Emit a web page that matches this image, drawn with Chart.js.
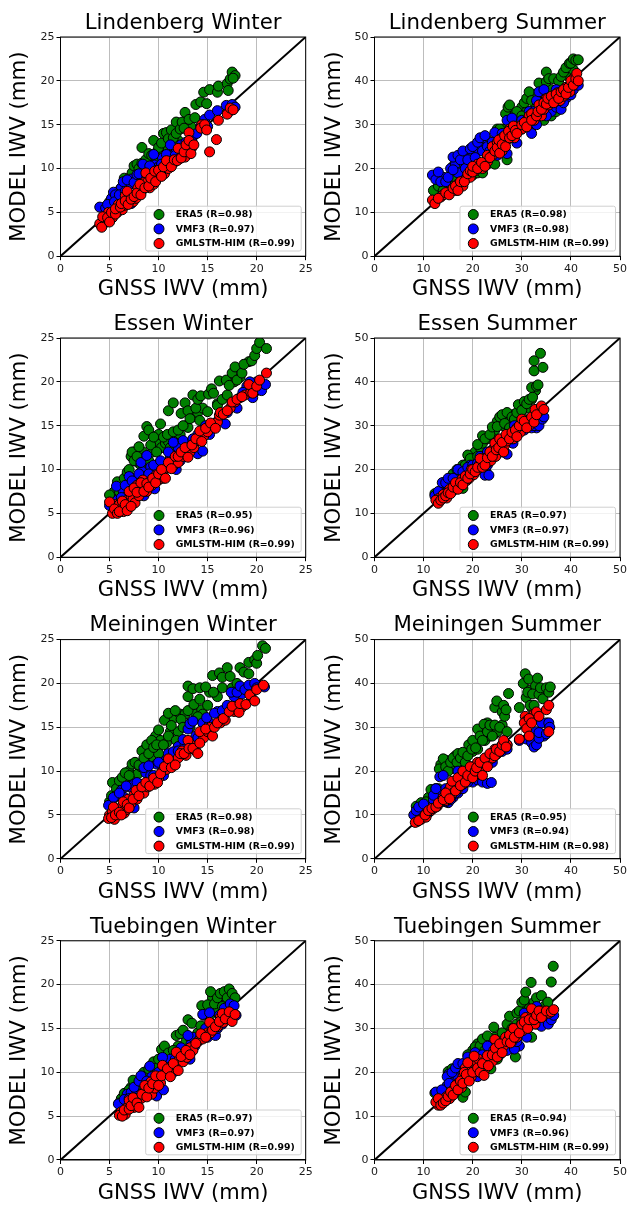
<!DOCTYPE html>
<html><head><meta charset="utf-8">
<script src="https://cdn.jsdelivr.net/npm/chart.js@4"></script>
<style>html,body{margin:0;padding:0;background:#fff}canvas{position:absolute;filter:blur(0.35px)}</style>
</head><body>
<script>
const seriesNames=["ERA5","VMF3","GMLSTM-HIM"];
const panelTitles=["Lindenberg Winter","Lindenberg Summer","Essen Winter","Essen Summer","Meiningen Winter","Meiningen Summer","Tuebingen Winter","Tuebingen Summer"];
const panelR=[[0.98,0.97,0.99],[0.98,0.98,0.99],[0.95,0.96,0.99],[0.97,0.97,0.99],[0.98,0.98,0.99],[0.95,0.94,0.98],[0.97,0.97,0.99],[0.94,0.96,0.99]];
const axisMax=[25,50,25,50,25,50,25,50];
const xLabel="GNSS IWV (mm)", yLabel="MODEL IWV (mm)";

const lindenbergWinterEra5=[[5.2,5.8],[5.8,7],[6.2,7.8],[6.8,8],[7.1,8.2],[7.6,9.2],[8,9],[8.4,9.6],[8.9,10],[9.1,10.8],[9.5,10.5],[9.9,12],[10.2,11.5],[10.7,12.5],[11,12.3],[11.4,13],[12,13.2],[12.9,14.5],[13.3,14.8],[4.5,5.6],[5,6.2],[5.5,6.5],[6,7.5],[6.5,8.9],[6.5,8.3],[7,8.9],[7.3,9.5],[7.5,10.3],[7.8,10.5],[8,10],[8.3,10.6],[8.3,12.4],[8.7,11],[9,11.7],[9.3,11.5],[9.5,13.2],[9.7,11.3],[10,12.4],[10.3,12.9],[10.5,14],[10.8,14.1],[11,13.4],[11.3,14.4],[11.5,13.5],[11.8,14],[11.8,15.3],[12.2,14.5],[12.4,15.3],[12.7,16.4],[12.6,14.6],[13.1,15.6],[13.7,15.8],[13.8,17.3],[14.3,17.6],[14.6,18.7],[14.9,17.4],[15.2,19],[16,18.7],[16.1,19.4],[17,19.7],[17.1,18.9],[17.3,20.2],[17.5,21],[17.8,20.6],[17.6,20.3]];
const lindenbergWinterVmf3=[[5,6],[5.2,6.6],[5.9,7.4],[6.2,7.8],[6.9,8],[7.2,8.8],[7.6,7],[8,8],[8.5,8.5],[8.7,9.8],[9.2,9],[9.6,10.4],[10,10.2],[10.4,11.2],[10.8,10.4],[11.2,11.5],[11.8,12.2],[12.2,11.8],[13,12.5],[13.4,13.2],[4,5.6],[4.6,5.5],[4.8,5.9],[5.4,7.3],[5.6,7],[5.5,6.2],[6,7],[6.4,8.5],[6.8,8.7],[6.6,7.4],[7,6.2],[7.2,6],[7.5,8.4],[7.8,9.3],[8,9.4],[8.2,7.3],[8.4,10.5],[8.8,9],[9.1,10.3],[9.5,11.6],[9.8,9.8],[10.3,10.5],[10.8,11.6],[11.2,12.7],[11.7,11.5],[12.3,12.7],[12.8,13],[13.5,13.7],[13.9,14],[14.3,14.8],[14.7,15.6],[15.2,16.1],[16,16.6],[15,14.8],[16.9,17.2],[17.5,17.3],[17.8,17],[17.3,16.6]];
const lindenbergWinterGmlstm=[[4.5,3.8],[4.6,4.2],[4.9,5],[5.3,4.4],[5.8,5],[5.9,5.9],[6.3,5.3],[6.5,5.8],[6.6,6.9],[7,6.2],[7.1,7],[7.4,6.2],[7.7,6.6],[7.9,7.8],[8.3,7.5],[8.5,8.4],[8.9,8.5],[9.1,7.8],[9.4,9.3],[9.5,8.2],[9.9,9],[10.2,9.8],[10.6,9.4],[11,10],[11.2,10.8],[11.5,10.6],[12.1,11.1],[12.4,12],[12.7,11.3],[13,12],[13.4,12.4],[14.4,15],[4,3.7],[4.2,3.3],[4.3,4.5],[4.8,4.4],[5,3.9],[5.2,5],[5.6,4.8],[5.6,5.4],[6.1,5.6],[6.2,6],[6.6,6.3],[6.8,7.4],[6.9,5.9],[7.2,6.5],[7.5,6.8],[7.8,7.2],[8.1,8.2],[8.2,7],[8.6,7.8],[8.7,9.5],[9,8],[9.2,8.9],[9.6,9.7],[9.7,8.5],[10,9.8],[10.3,9.1],[10.5,10.2],[10.8,10.9],[11.3,10.2],[11.6,11],[11.9,10.9],[12,12.3],[12.3,11.2],[12.6,11.9],[12.8,12.7],[13.1,14.1],[13.1,13.2],[13.3,11.7],[13.6,12.7],[14.3,14.6],[14.7,15],[14.9,14.4],[15.2,11.9],[15.9,13.3],[16.1,15.5],[17,16.2],[17.3,16.9],[17.6,16.7]];

const lindenbergSummerEra5=[[15,17],[16.5,18],[18,18],[20,21],[22,21],[23,23],[24,25],[26,26],[26,29],[28,32],[29,31],[30,34],[31,33],[32,33],[33,37],[34,35],[34.5,37.5],[35,34],[36,38],[37,35],[38,36],[39.5,41],[40.5,42.5],[12,15],[13,16],[14,15],[15.5,16],[16,20.5],[17,21],[18,20],[19,18.5],[20,18.5],[21,19],[22,19],[23,21],[24.5,21],[25,29],[25.5,29],[27,22],[26.7,32.5],[27.2,34],[27.5,34.5],[28,30],[29,33],[30,32],[30.5,35],[31,36],[31.5,37.5],[32,35.5],[33,34],[33.5,39.5],[34.5,31],[35,42],[35,39.8],[35.5,40.5],[36,32],[36.5,40.5],[37.5,40],[38,41],[38.5,42],[39,43],[39.7,44],[40,44],[40.5,45],[41,44.7],[41.5,44.8],[37,33]];
const lindenbergSummerVmf3=[[14,18],[15.5,20],[16.5,21],[17,19],[18,21.5],[19,23],[20,23],[21,24],[22,26],[23,26.5],[24,24],[25,27],[26,26],[28,29],[30,29],[31.5,33],[32.5,33],[33,35.5],[35,36],[36,33],[37,34],[39,36],[40,38.5],[11.8,18.5],[12.5,17.5],[13,19.2],[13.5,17],[14.5,17],[15,18],[16,22.6],[16,19.7],[17,23],[17.5,22],[18,24],[18.5,20],[19,22],[19.5,24.5],[20,25],[20.5,22.5],[21,26],[21.5,27],[22,24],[22.5,27.5],[23,25],[23.5,24],[24,26],[24.5,28.2],[25,23],[26,28],[27,23.4],[27,31],[28,31.5],[29,25.8],[29.5,29],[30,31],[31,30],[32,28],[33,30],[33.5,37.5],[34,34],[34.5,38],[35,32],[36,35],[37,38],[38,33.5],[38.5,35],[39,38.5],[40,36.8],[40.5,38],[41.5,39]];
const lindenbergSummerGmlstm=[[13.5,13.5],[14,14],[15,14.5],[15.7,15],[16.5,15],[17,16.5],[18,16],[18.5,17.5],[19.5,18],[20.5,19.5],[21,21],[22,20],[23,21.5],[23,23],[24,23],[24,25],[25,26],[26,24],[26,27],[27,26.5],[27.5,29],[28.5,27],[29.5,29],[30,29],[31,31],[31.5,32],[32.5,31],[33.5,34.5],[34,32],[34.5,33.5],[35,36],[35.5,34.5],[36,35],[36.8,36],[37.3,37.3],[37.8,35.5],[38.5,36.5],[39,38.5],[39.8,37.5],[40.5,40.5],[11.8,12.8],[12.3,12],[13,13.2],[14.5,14.5],[15.2,14],[16,15.5],[16.5,16],[17,15],[17.5,17],[18.3,17],[19,18.8],[19.5,19.5],[20,19.2],[20,20.5],[21,20],[21.8,21.4],[22.5,20.5],[23.5,22.5],[24.5,24],[25,24.8],[25.3,26.5],[25.5,23.5],[26,25.5],[26.5,27.5],[26.7,25],[27.3,28.5],[27.5,27],[28,27.5],[28.3,29.7],[28.7,28.7],[29,28],[30,30],[30.5,30.5],[31,29.5],[32,32.5],[32,31],[33,32],[33.3,33],[34,33.5],[34.5,35],[35,34.7],[35.3,36],[36,36.5],[36.5,35],[37,37],[37.5,36],[38,37.5],[38.5,38],[39,37],[39.5,38.5],[40,40],[40.5,39],[41,40.5],[41.2,41.7],[41.5,40]];

const essenWinterEra5=[[5.5,7.5],[6.2,8.2],[6.6,8.3],[7,9],[7.5,12],[7.9,10.8],[8.4,12],[8.7,11.5],[9,11],[9.4,12],[10,13],[10,14],[10.3,12.5],[10.7,13],[11,13.2],[11.2,12.5],[11.8,13.5],[12.2,14],[12.8,15],[13,14.8],[13.5,16],[14,16.5],[14.5,17],[16,17.5],[17.7,20],[18.3,20.5],[19.2,22.3],[5,7.1],[5.8,8.6],[6,7.5],[6.5,9],[6.8,9.7],[7,10],[7.2,11.5],[7.3,12],[7.5,11],[7.8,11.5],[8,12.6],[8.2,10.5],[8.5,13.8],[8.8,14.9],[9,14.5],[9.2,12.8],[9.5,13.7],[9.8,12],[10.2,15.2],[10.5,13.7],[10.9,14],[11,16.7],[11.5,17.6],[11.5,14.3],[12,14.5],[12.3,16.4],[12.5,15],[12.7,17.6],[13,16.7],[13.2,15.8],[13.5,18.5],[13.8,17],[14,18],[14.3,18.4],[14.2,15.6],[15,16.6],[15.1,18.6],[15.4,19.2],[15.6,18.7],[16,17.3],[16.2,20.1],[16.5,18],[16.9,20.2],[17,18.5],[17.2,19.6],[17.5,21],[17.8,21.7],[18,20.2],[18.5,21],[18.7,22],[19.5,22.4],[19.8,23],[20,23.8],[20.3,24.5],[21,23.8]];
const essenWinterVmf3=[[5.8,6.5],[6.4,7.5],[6.8,7],[7,8],[7.6,9],[8,8.2],[8.3,9.8],[8.5,7],[9,8],[9.2,10.3],[9.8,10.5],[10,9],[10.8,10.2],[11.2,11.5],[12,12.5],[12.2,11],[13,13],[14,14],[16.3,15.7],[17,16.5],[18.3,18.2],[19,19.5],[20,20],[5,5.9],[5.7,8.1],[6.2,6.8],[6.6,8.2],[7,9.2],[7.3,8.7],[7.5,7],[8,9.5],[8.2,10.8],[8.8,11.6],[9,9.5],[9.6,7.8],[9.5,10.5],[10.2,11],[10.5,9],[11,12],[11.5,13.1],[11.8,10],[12.5,13.3],[13,12],[13.5,13.5],[14,11.8],[14.5,12.1],[14.8,15],[15.2,14],[16,15.5],[16.8,15.2],[17.5,17.5],[18,17],[18.6,18.8],[19.3,20],[19.6,18.2],[20,19],[20.5,19],[20.9,19.7]];
const essenWinterGmlstm=[[5.3,5],[5.6,6],[6,6],[6.2,5.5],[6.4,5.2],[6.6,5.5],[6.8,6.5],[7,6.2],[7.2,7],[7.4,6.6],[7.6,6.2],[7.8,8.2],[8,7],[8.2,7.7],[8.4,8.8],[8.8,7.5],[9.1,8.6],[9.3,8.2],[9.7,9.3],[10,8.8],[10.2,9],[10.5,9.8],[10.8,10.2],[11.5,10.4],[12,10.8],[12.5,11.5],[13.2,12],[13.6,12.5],[14,13.3],[14.6,13.8],[15,14.3],[16,15.4],[16.2,16.2],[17.3,17],[17.8,17.7],[18.8,18.5],[19.4,18.8],[5,6.3],[5.5,5.5],[5.8,5],[6,5.2],[6.3,6.4],[6.6,6],[6.8,5.3],[7,7.5],[7.2,5.8],[7.5,7.9],[7.8,7.4],[8.2,8.5],[8.5,7.5],[8.8,8.4],[9,8],[9.4,9],[9.7,8.5],[10,9.5],[10.3,10],[10.7,9],[11,10.8],[11.3,10.1],[11.7,11.5],[12,11.5],[12.3,12],[12.7,12.5],[13,11.4],[13.4,12.8],[13.8,13.5],[14.2,14.4],[14.4,13.2],[14.8,14.7],[15.3,15.3],[15.8,14.7],[16.3,16.5],[16.6,16.3],[17,16.7],[17.5,17.7],[18,18],[18.5,18.3],[19.2,19.7],[19.6,18.7],[20,19.5],[20.3,20.2],[21,21]];

const essenSummerEra5=[[14.5,17],[15.5,18],[16.5,19],[17.5,19],[18,21],[19,21.5],[20,23],[20.5,24],[21.5,25],[22,26],[23,27],[24,28],[24.5,29],[25,31],[26.2,30],[27,31],[28.2,32.5],[30,32],[31,34],[32,36],[32.8,38],[12.3,14.5],[13,14],[14,17],[15,16],[16,19],[16.8,20],[17.5,20],[18,15.7],[18.5,21],[19,23.3],[19.5,22.5],[20,19],[21,23],[21,25.7],[22,27.7],[22.5,27],[23.5,28],[24,29.7],[25,29.8],[25.5,32],[26,32.5],[26.5,30.5],[27,33],[27.5,29.5],[28,32],[28.5,31.5],[29,33],[29.3,34.8],[30,33.5],[30.5,35.5],[31,35],[31.5,36],[32,38.7],[32.2,36.5],[32.5,42.5],[32.5,44.8],[33,39],[33.3,39.3],[33.8,46.5],[34.3,43.3]];
const essenSummerVmf3=[[13,14],[14,15.5],[15,16],[16,17],[17,18.5],[18,18],[19,19],[19.5,21],[20.5,20],[21,21],[21.5,23],[22,22],[22.7,19.5],[23,21],[24.5,23],[25,26],[26,24],[26.7,27],[28.2,26],[29,28],[30.5,29],[31.5,31],[33,29.5],[12.3,14],[13,15],[13.8,17],[14.5,17],[15,18],[16,18],[17,20],[18,19.5],[19,20.5],[20,21],[21,21.5],[21.5,21],[22.5,18.7],[23.3,18.7],[23,24],[24,24.5],[25,25],[26,25.5],[27,23.5],[27.5,28],[28,27],[28.5,30],[29.5,29],[30,31],[31,30],[32,29.5],[32.5,30],[33,31],[33.5,30],[34.2,31.5],[34.5,32]];
const essenSummerGmlstm=[[13.2,13.5],[14,14.3],[14.7,13.5],[15.3,15.5],[15.8,15],[16.3,15.5],[16.7,16],[17.3,16],[17.8,17.8],[18.2,17.2],[18.8,17.5],[19.3,18],[19.7,20],[20.2,18.8],[20.8,19.8],[21.3,21],[21.8,21],[22.3,22.5],[23,21.5],[23.7,22],[24.2,24.5],[24.7,23],[25,26.5],[25.7,24.5],[26.5,25.5],[27,26.5],[27.8,27.5],[28.3,27],[29,29.5],[29.7,28.5],[30.2,30],[31,31],[31.5,30],[32.2,31.5],[33.3,33],[12.5,13],[13,12.3],[13.5,13],[14,13.5],[14.5,14],[15,14.7],[15.5,14.5],[16,16],[16.5,17],[17,15.5],[17.5,17],[18,16.5],[18.5,18.5],[19,18],[19.5,19],[20,20],[20.5,19.5],[21,20.5],[21.5,22.5],[22,20.5],[22.5,21],[23,22.7],[23.5,24],[24,23],[24.5,26],[24.8,24.5],[25.3,25],[25.5,27],[26,26.2],[26.3,24],[26.8,28],[27.5,27],[28,28.5],[28.7,29],[29,27.5],[29.5,30],[30,31.5],[30.5,31],[31,29.5],[32,32],[32.5,30.8],[32.7,33.7],[33,32.5],[34,34.5],[34.5,33.7]];

const meiningenWinterEra5=[[5.5,7],[6,7.5],[6.2,8.2],[6.8,8.5],[7,10],[7.5,9.5],[7.9,9.7],[8.2,10.5],[8.6,12.5],[9,11],[9.5,11.5],[9.7,14],[10,12],[10.2,13.5],[10.8,13.2],[11.2,14.5],[11.5,16],[12,14.5],[12.2,16.5],[12.7,16.5],[13.2,15],[13.8,16.5],[14.4,17],[14.5,16.5],[15.2,19],[16,18.5],[16.5,19.5],[5,6.5],[5.2,7.2],[5.3,8.7],[5.7,8],[6,8.9],[6.3,9.3],[6.6,9.8],[7,9.5],[7.3,10.8],[7.6,11],[8,10.7],[8.3,12.3],[8.5,11.5],[8.8,13],[9,12],[9.3,13.5],[9.5,12.7],[9.8,13],[10,14.7],[10.5,13],[10.6,15.8],[11,16.6],[11,14],[11.3,15.2],[11.7,16.9],[11.8,13.5],[12.3,15.9],[12.5,15],[13,19.7],[13,18.5],[13,16.9],[13.5,19.4],[13.6,17.6],[14,16.2],[14.2,19.5],[14.2,18.2],[14.8,19.6],[15,17.5],[15.5,20.9],[15.6,19],[16.2,21.2],[16.5,20.7],[17,21.8],[17.3,20.8],[17.5,19.5],[18,20],[18.3,21.8],[18.7,21.3],[19.2,21.1],[19.2,22.4],[19.8,22.7],[20,22.3],[20.1,23.2],[20.6,24.3],[20.9,24]];
const meiningenWinterVmf3=[[5.2,6.2],[5.7,7.2],[6.2,7.8],[6.5,7],[7,8.2],[7.5,8.5],[8.2,8.5],[8.7,9.8],[9.2,9.5],[9.8,10.8],[10.3,11],[10.8,11.3],[11.3,11],[12,12.8],[12.7,13],[13.8,14],[14.5,15.5],[15.2,15.5],[16,16.8],[16.8,17],[17.7,18.5],[18.5,18.8],[20,19.8],[4.9,6.1],[5.4,7],[6,7.5],[6.7,8.3],[7.2,6.3],[7.5,5.8],[7.8,8.7],[8,7.5],[8.5,10.4],[9,10.6],[9.5,9.5],[10,11],[10.5,9.5],[11,12],[11.5,12.2],[12,12.3],[12.5,13.6],[13,14.8],[13.2,15.4],[13.5,15.7],[14,13.8],[14.9,16.1],[15,14.8],[15.7,16.6],[16.5,16.9],[17,17.5],[17.4,19],[18,19],[18.3,19.7],[18.8,19.3],[19.2,19.8],[19.8,20],[20,19.5],[20.8,19.6]];
const meiningenWinterGmlstm=[[5,5],[5.3,5.4],[5.5,4.5],[5.8,5.5],[6.1,5.8],[6.5,5.2],[6.7,5.6],[6.9,6.8],[7.2,6.3],[7.5,7.3],[7.8,6.8],[8.2,7.6],[8.5,7.5],[8.9,8.2],[9.3,8.8],[9.6,8.5],[10,9.2],[10.4,10],[10.8,10.2],[11.5,11],[12,11.5],[12.4,12.3],[12.8,11.8],[13.3,13],[13.8,12.3],[14.6,13.8],[15,14.5],[15.3,15],[16.3,15.5],[16.8,15.8],[17.7,16.8],[18.5,17.3],[19.5,18.3],[4.9,4.6],[5.2,4.7],[5.4,5.9],[5.6,5],[6,5.3],[6.2,5],[6.4,6.5],[6.8,6.2],[7,5.8],[7.4,6.8],[7.7,7.8],[8,7.2],[8.3,8.2],[8.7,8.7],[9.1,8.3],[9.5,9.2],[9.9,8.7],[10.2,9.7],[10.6,10.5],[11,11.4],[11.3,10.4],[11.7,10.7],[12.2,12],[12.6,12],[13,13.5],[13.1,12.6],[13.5,12.6],[14,12],[14.2,13.2],[14.2,14.5],[14.8,14.8],[15.5,14],[15.7,15],[16,15.5],[16.6,16],[17.2,16.8],[17.5,17.4],[18.2,16.7],[18.3,17.7],[18.9,17.6],[19.3,18.7],[19.8,18],[20,19.3],[20.7,19.8]];

const meiningenSummerEra5=[[9,11.5],[10,12],[11,14],[12.5,14],[13,16],[13.5,21.5],[14.5,22.5],[15.5,20.5],[16.5,23.5],[17.5,21],[18.5,24],[19.2,26],[20,24.5],[21,27],[21,25],[22,29.5],[22.5,27],[23,31],[23.5,28],[24.5,28.5],[25,29],[26,30.5],[31.5,38.5],[32,34.5],[32.8,39.5],[34,38],[8.5,12],[9.5,12.8],[10.5,13],[11.5,15.8],[12,14],[12.5,16],[13.2,20.5],[14,22.8],[14.5,21],[15,20],[15.5,22],[16,23],[16.8,22],[17,24],[17.5,23],[18,24.3],[18.5,22],[19,23.5],[19.8,25],[20,27],[20.6,25.3],[21,29.6],[21.5,28],[22,27],[22.3,30.7],[23,29],[23.5,30.5],[24,28],[24.5,30.5],[24.5,34.5],[24.9,36],[25.5,30],[26,33.5],[26.3,35],[26.5,32.5],[26.8,34],[27.3,37.7],[27,29],[29.5,34.5],[30.3,40],[30.7,42.2],[30.9,36.8],[31.2,38],[31.4,41],[31.7,35],[32.2,37.6],[32.5,35],[33.2,41.2],[33.5,37.5],[33.8,39],[34.3,36.5],[35,39],[35.5,38],[35.8,39.2]];
const meiningenSummerVmf3=[[9,10],[9.5,11],[10.5,10.5],[11.5,12],[12,13.5],[13,15],[13.5,13],[14.5,16],[15,12.8],[16,14],[17,15],[18,16],[20,17.5],[20.5,19],[22,21],[23,22],[24.5,23.5],[26,24.5],[27,25],[33,29],[34,28.5],[34.5,28],[35,31],[8,10],[8.5,11],[9,11.8],[10,12.5],[11,10.5],[12,14.5],[12.5,16],[13.3,18.7],[14,19],[14.5,13],[15.5,13.5],[16.5,15],[17,20],[18,19],[19,17.5],[20,21],[21,18],[22,17.5],[23,17.2],[23.8,17.4],[24,22],[25,24],[26,25],[27,26],[29.5,27],[31,27.3],[32,26.5],[32.5,25.5],[33,26],[33.5,27.5],[34,31],[33.5,28.8],[35,28.5],[35.5,31],[35.7,30]];
const meiningenSummerGmlstm=[[8.7,8.5],[9.5,9],[10.5,9.5],[11.5,11],[12,11.5],[12.8,12],[13.5,13],[14,14],[14.5,13.3],[15,15.5],[15.5,16.5],[16,15],[16.5,17.5],[17,16],[17.5,18],[18,17],[18.5,19.5],[18.8,18],[19.3,20],[19.7,18.5],[20.3,19],[21,19.5],[21,22],[21.5,20],[22.2,21],[22.8,22],[23.3,22.5],[24,23],[24.5,25],[25,24],[25.7,25.5],[26.5,26],[27,26],[30.7,32.5],[31,31.5],[32.5,33],[8.3,8.3],[9,8.7],[10.3,10],[11,11],[11.7,11.5],[12.5,11.8],[13,12.7],[14,13.5],[14.5,15],[15.3,13.7],[15.8,17.7],[16.5,15.5],[17,18.5],[17.5,16.7],[18,20],[18.5,17.5],[19,19],[19.5,21],[20,18.5],[20.5,20],[20.8,20.8],[21.5,22],[22,19],[22.5,23],[23,21],[23.5,24],[24.5,23.5],[24.8,25],[25.5,24.5],[26,26],[26.3,27],[26.8,25.5],[29.5,27.3],[30.5,31],[31,29.7],[31.5,32],[31.5,28],[32,31],[33,33.5],[33.5,32.5],[35,34],[35.5,35],[35.5,29]];

const tuebingenWinterEra5=[[6.2,7],[6.8,7.3],[7.2,8.3],[7.6,8.8],[8,9],[8.8,9.5],[9.2,10.7],[10.2,11],[11.2,11.5],[11.8,12.5],[12,13],[12.8,13.5],[14.8,15],[15.2,16.5],[15.5,18.5],[16,17],[16.5,18.5],[17,18],[17.5,17.5],[6,6.5],[6.5,7.6],[7,8],[7.4,9.1],[7.8,8],[8.2,9.3],[8.5,10],[9,10.4],[9.5,11.2],[9.8,10.5],[10,11.5],[10.3,12.6],[10.6,13],[11,12.2],[11.5,12.5],[11.8,14.2],[12.2,14.4],[12.5,14.8],[13,16],[13.2,14],[13.4,15.6],[14,14.5],[14.3,15.3],[14.4,17.6],[14.6,16.5],[15,17.7],[15.3,19.2],[15.7,17.8],[16,18.5],[16.3,19],[16.5,17.5],[16.7,19.2],[17,18.5],[17.2,19.5],[17.5,19],[17.8,18.5]];
const tuebingenWinterVmf3=[[6.2,6.2],[6.8,7.5],[7.2,7.7],[7.8,7.5],[8.5,8.7],[9.3,9.5],[9.5,8],[10,9],[10.8,11],[11.2,11.5],[11.5,10],[12,12],[12.7,12.3],[13.3,13.2],[13.5,14],[14,13.5],[14.3,14],[14.8,15],[15.5,14.5],[16.2,16.5],[16.5,15.5],[17,17],[17.5,17],[5.9,6.4],[6.5,6.9],[7,7],[7.5,8.3],[8,9],[8.2,9.6],[8.8,9],[9.1,10.7],[9.8,7.3],[10,10],[10.4,11.7],[10.5,8],[11,10.5],[11.7,11.5],[12.3,12.8],[13,14.2],[13.2,11.5],[13.7,13],[14.5,16.6],[15,14],[15.2,16.8],[15.8,14.2],[16,15],[16.7,17.3],[17.3,17.8],[17.7,17.6],[17.9,16.5]];
const tuebingenWinterGmlstm=[[6.2,5.5],[6.6,5.2],[6.8,6],[7,6.8],[7.5,6],[7.7,7],[8,7],[8.2,7],[8.5,7.8],[8.9,7.8],[9.2,8.9],[9.3,7.5],[9.6,8.2],[10,9.3],[10.2,8.8],[10.6,9.8],[11,9.8],[11.4,10.5],[11.7,10.8],[12.1,11.5],[12.5,11.2],[12.9,11.7],[13.2,12.8],[13.5,12.5],[14,13.5],[14.5,13.8],[15,14.5],[15.3,14.5],[15.6,15.5],[16,15.2],[16.3,16.3],[16.6,15.7],[17,16.5],[17.4,16.7],[6,5.1],[6.3,5],[6.5,5.7],[7,5.8],[7.2,6.2],[7.4,7.1],[7.8,6.5],[8,6],[8.3,7.5],[8.6,8.5],[8.8,7.2],[9,8.2],[9.4,8.7],[9.7,9.6],[10,8.5],[10.3,9.6],[10.4,10.8],[10.9,10.4],[11.2,9.5],[11.5,11],[11.8,12.3],[12,10.2],[12.3,11.8],[12.8,12.5],[13.2,12],[13.8,13.3],[14.3,14.4],[14.8,14],[15.2,15.7],[15.5,14.8],[15.8,15.2],[16.2,15.8],[16.5,16.7],[16.8,16.1],[17.2,16.9],[17.5,15.8],[17.8,16.6]];

const tuebingenSummerEra5=[[13,14],[14,15],[15.5,17],[16,19],[17,21],[18,18],[18.8,22],[19.5,23],[20,25],[21,24],[21,26.5],[22,24],[23,26],[24,27],[24.5,28],[25.5,26],[26.5,28],[27.5,30],[29,31],[30,32],[31,35],[31,30],[32,32],[33,34],[34,34],[12.3,15.3],[13.5,13],[14.5,13.5],[15,20.2],[15.8,20.8],[16.5,16],[17.5,20],[18,14.3],[18.5,15.5],[19,24],[20,21],[20.5,25.8],[21.5,26],[22,27.6],[22.5,25],[23,28.3],[23.7,20.8],[24.3,30.3],[25,23],[26,29],[27,31],[27.5,32.8],[28,30],[28.7,23.5],[29,33.5],[29.5,34],[30,36],[30.5,36.5],[30.8,38.3],[31.5,34.5],[31.9,40.5],[32,28],[32.5,36],[33,37],[34,37.5],[34.5,35],[35.3,36],[36,40.6],[36.4,44.2],[35,33.5]];
const tuebingenSummerVmf3=[[13,15],[14,15.5],[14.8,17],[15,19.5],[15.5,18.5],[16,17],[17,19],[18,20],[19,21],[20,22],[21,22],[22,21],[23,23],[24,26.5],[25.5,24],[26,27],[27,28],[28,25.5],[29,29],[29.5,26],[30,31],[31,33],[32,33],[33,31],[34,33.5],[35,32],[12.5,15.5],[13.7,16],[14.8,19],[15.2,17.5],[15.8,20],[16.5,21],[17,22],[18,22],[19,23.5],[19,20],[20.5,24.5],[21,19],[22,24],[23,26],[24,24],[25,25],[27,25],[27.8,27],[28.5,25.3],[29,27],[29.5,30],[30,29],[30.5,33.5],[31,28],[32,31],[33,35],[34,30.5],[34.5,33],[35.4,31],[36,32],[36.5,33]];
const tuebingenSummerGmlstm=[[13,12.5],[13.7,13.5],[14.2,14],[14.7,14.5],[15.3,14],[16,16],[16.5,15.5],[17,17.5],[17.7,16.5],[18,19],[18.3,18],[18.5,21],[19,19],[19.3,20.5],[19.7,19],[20,22],[20.5,20.5],[20.8,22.5],[21.2,23],[21.7,21],[22.3,22.5],[22.7,21],[23.5,23],[24,22.5],[24.3,25],[25,26],[25.7,25],[26.3,26],[26.7,28],[27.3,27.5],[27.8,29],[28,27],[28.7,29],[29,28],[29.7,30.5],[30.2,29.5],[30.8,32.5],[31,31],[31.7,31],[32.2,33],[32.7,31],[33.3,32.5],[34,34],[34.5,33],[35.5,33.5],[12.5,13.2],[13,14],[13.5,12.5],[14,13],[14.5,13.5],[15,14.5],[15.5,15.5],[16,14.8],[16.5,17],[17,16],[17.5,18],[18,17.5],[18.3,20],[18.7,19.5],[19,22.2],[19.3,18],[20,20],[20.3,23.7],[21,21],[21.5,20],[22,22],[22.3,19.3],[23,23.8],[23.2,21.5],[24,24],[24.5,27.5],[24.6,25.5],[25,23.5],[25.5,26.5],[26,24.5],[27,27],[27.5,28.5],[27.7,26.7],[28.3,30],[28.5,28],[29.5,29],[30,31],[30.5,31.5],[31.2,30],[31.5,32],[32,34.5],[32.5,32],[33,33],[33.5,34],[34,32.5],[35,34],[36,33.8],[36.5,34.3]];

const panelSeries=[
 [lindenbergWinterEra5,lindenbergWinterVmf3,lindenbergWinterGmlstm],
 [lindenbergSummerEra5,lindenbergSummerVmf3,lindenbergSummerGmlstm],
 [essenWinterEra5,essenWinterVmf3,essenWinterGmlstm],
 [essenSummerEra5,essenSummerVmf3,essenSummerGmlstm],
 [meiningenWinterEra5,meiningenWinterVmf3,meiningenWinterGmlstm],
 [meiningenSummerEra5,meiningenSummerVmf3,meiningenSummerGmlstm],
 [tuebingenWinterEra5,tuebingenWinterVmf3,tuebingenWinterGmlstm],
 [tuebingenSummerEra5,tuebingenSummerVmf3,tuebingenSummerGmlstm]];

const colors=["#008000","#0000ff","#ff0000"];
const rowTops=[37,338,639.6,940.8];
const plotH=219.2, cellH=305, xAxisH=46;
const cols=[{canvasLeft:0,canvasW:320,yW:60.5,plotW:245.2},{canvasLeft:315,canvasW:314,yW:59.5,plotW:245.5}];
const FONT="'DejaVu Sans'";

const framePlugin={id:'frameAndLegend',
 afterDatasetsDraw(chart){
  const a=chart.chartArea,c=chart.ctx;
  c.save();
  c.strokeStyle='#000';c.lineWidth=1;
  c.strokeRect(a.left,a.top,a.right-a.left,a.bottom-a.top);
  const L=a.right-160,T=a.bottom-50,W=155.5,H=44.8;
  c.beginPath();c.roundRect(L,T,W,H,2);
  c.fillStyle='rgba(255,255,255,0.8)';c.fill();
  c.strokeStyle='#d0d0d0';c.lineWidth=1;c.stroke();
  const rows=[41.7,27.3,12.7];
  c.font="bold 9.3px "+FONT;c.textBaseline='middle';c.textAlign='left';
  chart.data.datasets.slice(0,3).forEach((d,i)=>{
    const y=a.bottom-rows[i];
    c.beginPath();c.arc(a.right-146.7,y,5,0,Math.PI*2);
    c.fillStyle=d.backgroundColor;c.fill();
    c.strokeStyle='#000';c.lineWidth=1;c.stroke();
    c.fillStyle='#000';
    c.fillText(d.label,a.right-130,y+0.5);
  });
  c.restore();
 }};

panelTitles.forEach((title,p)=>{
  const col=cols[p%2],row=Math.floor(p/2),max=axisMax[p];
  const canvasTop=row*300;
  const cv=document.createElement('canvas');
  cv.width=col.canvasW;cv.height=cellH;
  cv.style.left=col.canvasLeft+'px';cv.style.top=canvasTop+'px';
  cv.style.width=col.canvasW+'px';cv.style.height=cellH+'px';
  document.body.appendChild(cv);
  const relTop=rowTops[row]-canvasTop;
  const titleBox=26.56;
  const scatter=panelSeries[p].map((pts,i)=>({
    type:'scatter',
    label:seriesNames[i]+' (R='+panelR[p][i].toFixed(2)+')',
    data:pts.map(q=>({x:q[0],y:q[1]})),
    backgroundColor:colors[i],borderColor:'#000',borderWidth:1,
    pointRadius:5,pointHoverRadius:5,order:3-i
  }));
  const diag={type:'scatter',label:'1:1',showLine:true,data:[{x:0,y:0},{x:max,y:max}],
    borderColor:'#000',borderWidth:2,pointRadius:0,order:4,fill:false};
  const scaleCommon={type:'linear',min:0,max:max,
    ticks:{stepSize:max/5,color:'#1a1a1a',font:{family:FONT,size:11},padding:2,maxRotation:0,autoSkip:false},
    grid:{color:'#bdbdbd',lineWidth:1,tickLength:4,tickColor:'#000',tickWidth:1},
    border:{color:'#000',width:1}};
  new Chart(cv,{
    data:{datasets:[...scatter,diag]},
    options:{responsive:false,animation:false,devicePixelRatio:1,
      layout:{padding:{top:relTop-titleBox,right:col.canvasW-col.yW-col.plotW,left:0,bottom:cellH-relTop-plotH-xAxisH}},
      plugins:{legend:{display:false},tooltip:{enabled:false},
        title:{display:true,text:title,color:'#000',font:{family:FONT,size:21.3,weight:'normal'},padding:{top:0,bottom:1},align:'center',
          fullSize:false}},
      scales:{
        x:{...scaleCommon,position:'bottom',
          title:{display:true,text:xLabel,color:'#000',font:{family:FONT,size:21,weight:'normal'},padding:{top:0,bottom:0}},
          afterFit(s){s.height=xAxisH;}},
        y:{...scaleCommon,position:'left',
          title:{display:true,text:yLabel,color:'#000',font:{family:FONT,size:21.3,weight:'normal'},padding:{top:7,bottom:0}},
          afterFit(s){s.width=col.yW;}}
      }},
    plugins:[framePlugin]
  });
});
</script>
</body></html>
